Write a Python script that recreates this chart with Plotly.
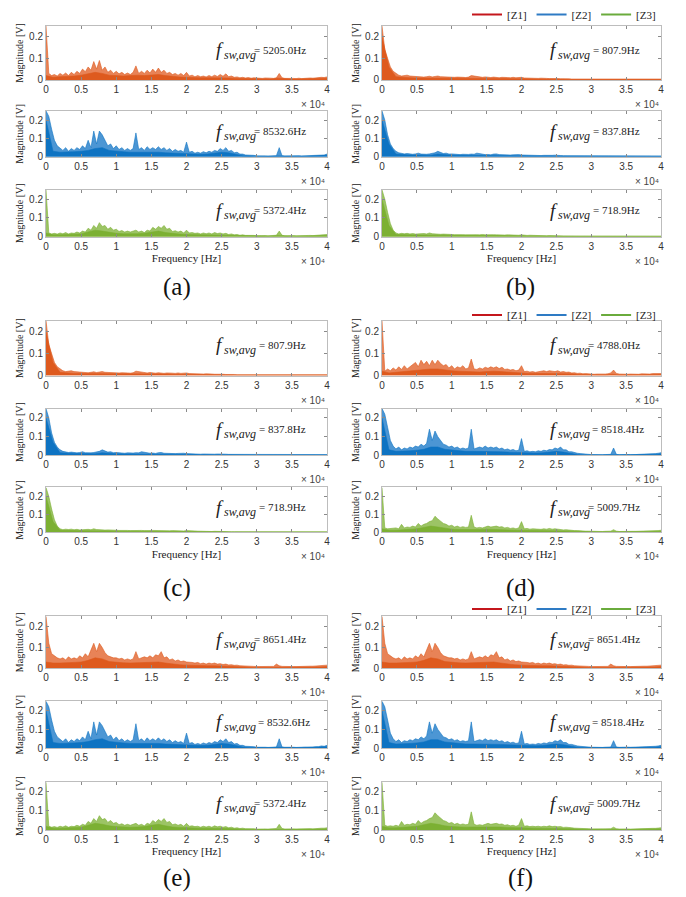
import plotly.graph_objects as go

# ---------------- data (magnitude, V) ----------------
# spike envelope on a 400 Hz grid
FREQ_HZ = list(range(0, 40001, 400))
# dense band level on a 1000 Hz grid
FREQ_BASE_HZ = list(range(0, 40001, 1000))
X_TICKS_HZ = [0, 5000, 10000, 15000, 20000, 25000, 30000, 35000, 40000]
X_TICK_TEXT = ["0", "0.5", "1", "1.5", "2", "2.5", "3", "3.5", "4"]
Y_TICKS = [0, 0.1, 0.2]
Y_TICK_TEXT = ["0", "0.1", "0.2"]

A1 = [0.25, 0.03, 0.02, 0.025, 0.018, 0.03, 0.022, 0.032, 0.02, 0.035, 0.025,
      0.04, 0.03, 0.05, 0.038, 0.06, 0.045, 0.085, 0.05, 0.09, 0.045,
      0.06, 0.035, 0.045, 0.03, 0.04, 0.028, 0.035, 0.025, 0.032, 0.025,
      0.035, 0.065, 0.03, 0.04, 0.03, 0.045, 0.032, 0.05, 0.035, 0.055,
      0.035, 0.045, 0.03, 0.035, 0.025, 0.03, 0.022, 0.03, 0.02, 0.035,
      0.018, 0.022, 0.015, 0.02, 0.015, 0.018, 0.014, 0.02, 0.015, 0.022,
      0.016, 0.025, 0.017, 0.028, 0.015, 0.018, 0.012, 0.014, 0.01, 0.012,
      0.009, 0.011, 0.008, 0.01, 0.008, 0.009, 0.007, 0.009, 0.007, 0.008,
      0.007, 0.01, 0.03, 0.01, 0.007, 0.008, 0.006, 0.007, 0.006, 0.008,
      0.006, 0.008, 0.007, 0.009, 0.008, 0.01, 0.009, 0.012, 0.011, 0.014]
A1_BASE = [0.02, 0.012, 0.015, 0.015, 0.018, 0.022, 0.03, 0.035, 0.03, 0.022, 0.02,
           0.018, 0.02, 0.022, 0.02, 0.022, 0.025, 0.02, 0.016, 0.014, 0.012,
           0.01, 0.01, 0.01, 0.01, 0.011, 0.009, 0.007, 0.006, 0.005, 0.005,
           0.005, 0.004, 0.008, 0.005, 0.004, 0.004, 0.005, 0.005, 0.006, 0.008]

A2 = [0.25, 0.22, 0.15, 0.09, 0.06, 0.045, 0.035, 0.05, 0.03, 0.045, 0.035,
      0.05, 0.04, 0.06, 0.045, 0.09, 0.05, 0.14, 0.07, 0.14, 0.12,
      0.09, 0.06, 0.07, 0.045, 0.06, 0.04, 0.05, 0.035, 0.045, 0.035,
      0.045, 0.13, 0.04, 0.05, 0.035, 0.055, 0.04, 0.05, 0.04, 0.055,
      0.04, 0.05, 0.035, 0.045, 0.03, 0.04, 0.03, 0.035, 0.025, 0.08,
      0.025, 0.03, 0.02, 0.025, 0.02, 0.028, 0.022, 0.03, 0.025, 0.035,
      0.03, 0.045, 0.035, 0.05, 0.03, 0.035, 0.022, 0.025, 0.015, 0.015,
      0.01, 0.01, 0.007, 0.008, 0.005, 0.006, 0.004, 0.005, 0.004, 0.005,
      0.004, 0.006, 0.05, 0.006, 0.004, 0.005, 0.004, 0.005, 0.004, 0.006,
      0.005, 0.006, 0.005, 0.007, 0.006, 0.008, 0.008, 0.012, 0.01, 0.015]
A2_BASE = [0.2, 0.03, 0.025, 0.025, 0.028, 0.03, 0.035, 0.045, 0.05, 0.035, 0.03,
           0.028, 0.025, 0.025, 0.025, 0.028, 0.025, 0.022, 0.02, 0.018, 0.018,
           0.015, 0.014, 0.015, 0.02, 0.025, 0.022, 0.012, 0.006, 0.004, 0.003,
           0.003, 0.003, 0.005, 0.003, 0.003, 0.003, 0.003, 0.004, 0.005, 0.008]

A3 = [0.25, 0.02, 0.015, 0.018, 0.014, 0.02, 0.016, 0.022, 0.015, 0.02, 0.018,
      0.025, 0.02, 0.03, 0.025, 0.045, 0.035, 0.06, 0.045, 0.075, 0.055,
      0.06, 0.04, 0.05, 0.035, 0.04, 0.028, 0.033, 0.025, 0.03, 0.025,
      0.03, 0.035, 0.025, 0.03, 0.022, 0.035, 0.03, 0.05, 0.04, 0.055,
      0.045, 0.06, 0.04, 0.045, 0.028, 0.032, 0.025, 0.03, 0.02, 0.035,
      0.02, 0.022, 0.018, 0.02, 0.015, 0.02, 0.016, 0.02, 0.015, 0.022,
      0.017, 0.02, 0.015, 0.018, 0.012, 0.015, 0.01, 0.012, 0.008, 0.01,
      0.007, 0.008, 0.006, 0.007, 0.005, 0.006, 0.005, 0.006, 0.005, 0.006,
      0.005, 0.008, 0.03, 0.008, 0.005, 0.006, 0.005, 0.006, 0.005, 0.006,
      0.005, 0.006, 0.006, 0.007, 0.006, 0.008, 0.008, 0.01, 0.01, 0.012]
A3_BASE = [0.02, 0.01, 0.01, 0.012, 0.012, 0.015, 0.025, 0.035, 0.03, 0.022, 0.018,
           0.016, 0.015, 0.016, 0.018, 0.025, 0.03, 0.022, 0.016, 0.014, 0.012,
           0.011, 0.01, 0.01, 0.01, 0.009, 0.008, 0.006, 0.004, 0.003, 0.003,
           0.003, 0.003, 0.006, 0.003, 0.003, 0.003, 0.003, 0.004, 0.005, 0.006]

B1 = [0.25, 0.14, 0.1, 0.06, 0.04, 0.03, 0.022, 0.018, 0.02, 0.022, 0.018,
      0.017, 0.015, 0.014, 0.015, 0.013, 0.015, 0.017, 0.014, 0.016, 0.018,
      0.015, 0.014, 0.016, 0.013, 0.014, 0.012, 0.013, 0.011, 0.012, 0.011,
      0.013, 0.02, 0.018, 0.015, 0.013, 0.012, 0.014, 0.012, 0.011, 0.013,
      0.011, 0.01, 0.012, 0.01, 0.011, 0.01, 0.012, 0.01, 0.011, 0.012,
      0.009, 0.008, 0.009, 0.007, 0.008, 0.007, 0.008, 0.006, 0.007, 0.006,
      0.007, 0.006, 0.006, 0.005, 0.006, 0.005, 0.005, 0.004, 0.004, 0.004,
      0.004, 0.004, 0.003, 0.004, 0.003, 0.003, 0.003, 0.003, 0.003, 0.003,
      0.003, 0.003, 0.003, 0.003, 0.003, 0.003, 0.003, 0.003, 0.003, 0.003,
      0.003, 0.003, 0.003, 0.003, 0.003, 0.003, 0.003, 0.003, 0.003, 0.004]
B1_BASE = [0.2, 0.06, 0.015, 0.011, 0.01, 0.009, 0.009, 0.009, 0.01, 0.009, 0.008,
           0.008, 0.007, 0.009, 0.008, 0.007, 0.007, 0.007, 0.006, 0.006, 0.006,
           0.005, 0.004, 0.004, 0.003, 0.003, 0.003, 0.002, 0.002, 0.002, 0.002,
           0.002, 0.002, 0.002, 0.002, 0.002, 0.002, 0.002, 0.002, 0.002, 0.002]

B2 = [0.25, 0.2, 0.12, 0.07, 0.045, 0.03, 0.022, 0.018, 0.016, 0.018, 0.015,
      0.014, 0.016, 0.02, 0.015, 0.013, 0.014, 0.016, 0.018, 0.022, 0.03,
      0.025, 0.018, 0.02, 0.015, 0.016, 0.014, 0.013, 0.012, 0.014, 0.012,
      0.013, 0.015, 0.014, 0.02, 0.016, 0.013, 0.012, 0.013, 0.011, 0.015,
      0.016, 0.012, 0.011, 0.01, 0.012, 0.01, 0.011, 0.013, 0.012, 0.01,
      0.009, 0.008, 0.009, 0.008, 0.007, 0.008, 0.007, 0.008, 0.007, 0.007,
      0.008, 0.009, 0.01, 0.007, 0.006, 0.006, 0.005, 0.005, 0.005, 0.004,
      0.004, 0.004, 0.004, 0.004, 0.004, 0.004, 0.004, 0.004, 0.004, 0.004,
      0.004, 0.005, 0.008, 0.005, 0.004, 0.004, 0.004, 0.004, 0.004, 0.004,
      0.004, 0.004, 0.004, 0.004, 0.004, 0.004, 0.004, 0.004, 0.004, 0.005]
B2_BASE = [0.2, 0.07, 0.015, 0.011, 0.01, 0.01, 0.009, 0.009, 0.015, 0.01, 0.009,
           0.008, 0.008, 0.009, 0.008, 0.007, 0.007, 0.006, 0.006, 0.006, 0.005,
           0.005, 0.004, 0.004, 0.004, 0.004, 0.003, 0.002, 0.002, 0.002, 0.002,
           0.002, 0.002, 0.003, 0.002, 0.002, 0.002, 0.002, 0.002, 0.002, 0.002]

B3 = [0.25, 0.2, 0.13, 0.07, 0.035, 0.02, 0.015, 0.018, 0.016, 0.018, 0.015,
      0.017, 0.014, 0.016, 0.015, 0.017, 0.015, 0.02, 0.016, 0.014, 0.015,
      0.013, 0.014, 0.012, 0.013, 0.012, 0.011, 0.012, 0.01, 0.011, 0.01,
      0.011, 0.012, 0.01, 0.011, 0.01, 0.012, 0.01, 0.011, 0.01, 0.011,
      0.01, 0.009, 0.01, 0.009, 0.01, 0.009, 0.008, 0.009, 0.008, 0.01,
      0.008, 0.007, 0.008, 0.007, 0.006, 0.007, 0.006, 0.006, 0.005, 0.006,
      0.005, 0.006, 0.005, 0.005, 0.004, 0.004, 0.004, 0.004, 0.004, 0.004,
      0.003, 0.003, 0.003, 0.003, 0.003, 0.003, 0.003, 0.003, 0.003, 0.003,
      0.003, 0.003, 0.004, 0.003, 0.003, 0.003, 0.003, 0.003, 0.003, 0.003,
      0.003, 0.003, 0.003, 0.003, 0.003, 0.003, 0.003, 0.003, 0.003, 0.003]
B3_BASE = [0.2, 0.06, 0.012, 0.01, 0.01, 0.009, 0.009, 0.01, 0.008, 0.008, 0.007,
           0.007, 0.007, 0.006, 0.006, 0.006, 0.006, 0.005, 0.005, 0.005, 0.005,
           0.004, 0.004, 0.003, 0.003, 0.003, 0.002, 0.002, 0.002, 0.002, 0.002,
           0.002, 0.002, 0.002, 0.002, 0.002, 0.002, 0.002, 0.002, 0.002, 0.002]

D1 = [0.25, 0.02, 0.03, 0.022, 0.035, 0.025, 0.04, 0.028, 0.045, 0.03, 0.04,
      0.05, 0.06, 0.04, 0.07, 0.05, 0.065, 0.045, 0.07, 0.05, 0.07,
      0.055, 0.045, 0.05, 0.035, 0.045, 0.03, 0.04, 0.035, 0.045, 0.03,
      0.035, 0.075, 0.03, 0.028, 0.035, 0.03, 0.038, 0.033, 0.04, 0.035,
      0.04, 0.032, 0.038, 0.028, 0.03, 0.025, 0.028, 0.022, 0.025, 0.045,
      0.018, 0.02, 0.016, 0.018, 0.015, 0.018, 0.02, 0.022, 0.018, 0.022,
      0.02, 0.018, 0.022, 0.016, 0.018, 0.015, 0.016, 0.012, 0.013, 0.01,
      0.011, 0.008, 0.009, 0.007, 0.008, 0.006, 0.007, 0.006, 0.007, 0.007,
      0.008, 0.012, 0.025, 0.01, 0.007, 0.006, 0.007, 0.006, 0.007, 0.006,
      0.007, 0.006, 0.008, 0.007, 0.008, 0.007, 0.009, 0.008, 0.01, 0.009]
D1_BASE = [0.02, 0.012, 0.015, 0.018, 0.02, 0.025, 0.028, 0.03, 0.03, 0.025, 0.022,
           0.02, 0.018, 0.016, 0.016, 0.018, 0.02, 0.018, 0.015, 0.013, 0.012,
           0.01, 0.01, 0.011, 0.011, 0.011, 0.01, 0.008, 0.006, 0.004, 0.004,
           0.003, 0.003, 0.006, 0.003, 0.003, 0.003, 0.004, 0.004, 0.004, 0.005]

D2 = [0.25, 0.22, 0.15, 0.08, 0.05, 0.035, 0.045, 0.03, 0.04, 0.035, 0.045,
      0.04, 0.05, 0.045, 0.06, 0.05, 0.065, 0.14, 0.08, 0.13, 0.1,
      0.08, 0.06, 0.055, 0.045, 0.05, 0.04, 0.045, 0.035, 0.04, 0.035,
      0.04, 0.14, 0.035, 0.04, 0.045, 0.04, 0.05, 0.04, 0.045, 0.04,
      0.045, 0.035, 0.04, 0.03, 0.035, 0.028, 0.032, 0.025, 0.028, 0.09,
      0.022, 0.025, 0.02, 0.022, 0.02, 0.025, 0.022, 0.028, 0.025, 0.032,
      0.03, 0.04, 0.035, 0.045, 0.03, 0.03, 0.02, 0.02, 0.014, 0.012,
      0.01, 0.008, 0.007, 0.006, 0.005, 0.005, 0.004, 0.005, 0.004, 0.005,
      0.004, 0.006, 0.04, 0.006, 0.004, 0.005, 0.004, 0.005, 0.004, 0.006,
      0.005, 0.006, 0.006, 0.007, 0.007, 0.008, 0.009, 0.01, 0.012, 0.015]
D2_BASE = [0.2, 0.03, 0.022, 0.022, 0.025, 0.028, 0.033, 0.045, 0.045, 0.033, 0.028,
           0.025, 0.022, 0.022, 0.022, 0.024, 0.024, 0.02, 0.018, 0.016, 0.016,
           0.013, 0.013, 0.014, 0.018, 0.022, 0.018, 0.01, 0.005, 0.003, 0.003,
           0.003, 0.003, 0.005, 0.003, 0.003, 0.003, 0.004, 0.004, 0.005, 0.008]

D3 = [0.25, 0.025, 0.02, 0.022, 0.02, 0.025, 0.02, 0.045, 0.025, 0.03, 0.028,
      0.035, 0.03, 0.05, 0.035, 0.045, 0.05, 0.06, 0.065, 0.09, 0.075,
      0.06, 0.05, 0.045, 0.035, 0.04, 0.03, 0.035, 0.028, 0.032, 0.028,
      0.03, 0.095, 0.03, 0.025, 0.028, 0.025, 0.03, 0.035, 0.03, 0.032,
      0.035, 0.03, 0.032, 0.025, 0.028, 0.022, 0.025, 0.02, 0.025, 0.06,
      0.02, 0.022, 0.018, 0.02, 0.018, 0.02, 0.017, 0.02, 0.018, 0.022,
      0.018, 0.02, 0.017, 0.018, 0.014, 0.015, 0.012, 0.012, 0.01, 0.01,
      0.008, 0.008, 0.007, 0.007, 0.006, 0.006, 0.005, 0.006, 0.005, 0.006,
      0.005, 0.007, 0.015, 0.007, 0.005, 0.006, 0.005, 0.006, 0.005, 0.006,
      0.006, 0.006, 0.007, 0.007, 0.008, 0.008, 0.009, 0.009, 0.01, 0.012]
D3_BASE = [0.02, 0.012, 0.012, 0.014, 0.016, 0.02, 0.028, 0.035, 0.03, 0.022, 0.018,
           0.016, 0.015, 0.016, 0.016, 0.018, 0.018, 0.016, 0.014, 0.012, 0.012,
           0.011, 0.01, 0.01, 0.01, 0.01, 0.008, 0.007, 0.005, 0.004, 0.003,
           0.003, 0.003, 0.004, 0.003, 0.003, 0.003, 0.004, 0.004, 0.005, 0.006]

E1 = [0.25, 0.12, 0.07, 0.06, 0.05, 0.045, 0.05, 0.04, 0.055, 0.045, 0.05,
      0.045, 0.06, 0.05, 0.07, 0.055, 0.09, 0.12, 0.08, 0.12, 0.1,
      0.075, 0.06, 0.055, 0.05, 0.05, 0.045, 0.048, 0.04, 0.045, 0.04,
      0.045, 0.08, 0.045, 0.05, 0.055, 0.05, 0.06, 0.05, 0.065, 0.06,
      0.08, 0.05, 0.055, 0.04, 0.045, 0.035, 0.04, 0.032, 0.035, 0.03,
      0.03, 0.028, 0.025, 0.028, 0.022, 0.025, 0.02, 0.025, 0.022, 0.025,
      0.02, 0.022, 0.018, 0.02, 0.016, 0.017, 0.014, 0.015, 0.012, 0.012,
      0.01, 0.01, 0.009, 0.009, 0.008, 0.008, 0.008, 0.008, 0.008, 0.008,
      0.009, 0.02, 0.012, 0.009, 0.008, 0.008, 0.008, 0.008, 0.008, 0.009,
      0.008, 0.009, 0.009, 0.01, 0.01, 0.011, 0.012, 0.012, 0.014, 0.015]
E1_BASE = [0.03, 0.025, 0.025, 0.025, 0.028, 0.03, 0.038, 0.05, 0.045, 0.032, 0.028,
           0.026, 0.025, 0.026, 0.028, 0.03, 0.03, 0.025, 0.02, 0.017, 0.015,
           0.013, 0.012, 0.012, 0.012, 0.01, 0.009, 0.008, 0.006, 0.005, 0.004,
           0.004, 0.004, 0.006, 0.004, 0.004, 0.004, 0.005, 0.005, 0.006, 0.008]

PANEL_NAMES = ["(a)", "(b)", "(c)", "(d)", "(e)", "(f)"]
PANEL_SERIES = [
    [(A1, A1_BASE), (A2, A2_BASE), (A3, A3_BASE)],
    [(B1, B1_BASE), (B2, B2_BASE), (B3, B3_BASE)],
    [(B1, B1_BASE), (B2, B2_BASE), (B3, B3_BASE)],
    [(D1, D1_BASE), (D2, D2_BASE), (D3, D3_BASE)],
    [(E1, E1_BASE), (A2, A2_BASE), (A3, A3_BASE)],
    [(E1, E1_BASE), (D2, D2_BASE), (D3, D3_BASE)],
]
PANEL_FSW = [
    ["= 5205.0Hz", "= 8532.6Hz", "= 5372.4Hz"],
    ["= 807.9Hz", "= 837.8Hz", "= 718.9Hz"],
    ["= 807.9Hz", "= 837.8Hz", "= 718.9Hz"],
    ["= 4788.0Hz", "= 8518.4Hz", "= 5009.7Hz"],
    ["= 8651.4Hz", "= 8532.6Hz", "= 5372.4Hz"],
    ["= 8651.4Hz", "= 8518.4Hz", "= 5009.7Hz"],
]
# small extra gap before "=" (pixels), as typeset in the reference
PANEL_FSW_GAP = [
    [0, 0, 0],
    [5, 5, 5],
    [5, 5, 5],
    [0, 4, 0],
    [0, 4, 0],
    [0, 4, 0],
]
LEGEND_NAMES = ["[Z1]", "[Z2]", "[Z3]"]
X_MULT_TEXT = "× 10⁴"

# ---------------- styling / layout ----------------
W, H = 686, 897
SERIES_COLORS = ["#DE5A1E", "#0E73C2", "#7CB033"]
PEAK_FILL = ["rgba(226,96,40,0.78)", "rgba(25,120,200,0.78)", "rgba(128,180,58,0.78)"]
LEGEND_COLORS = ["#C4161C", "#2E7BC4", "#6AAB3C"]
COL_X = [(46, 327), (382, 661)]
ROW_Y = [
    [(25, 79), (110, 156), (189, 236)],
    [(320, 375), (408, 455), (487, 532)],
    [(616, 668), (701, 748), (782, 830)],
]
LABEL_Y = [286, 588, 878]
LABEL_X = [177, 520]
LEGEND_Y = [14, 315, 609]

SERIF = "Liberation Serif, Times New Roman, serif"
SANS = "Liberation Sans, Arial, sans-serif"

fig = go.Figure()
layout = dict(
    width=W, height=H, margin=dict(l=0, r=0, t=0, b=0),
    paper_bgcolor="white", plot_bgcolor="white", template="none",
    showlegend=True,
)
annotations = []

k = 0
for p in range(6):
    g, c = p // 2, p % 2
    x0, x1 = COL_X[c]
    for r in range(3):
        k += 1
        top, bot = ROW_Y[g][r]
        xn = "x" if k == 1 else f"x{k}"
        yn = "y" if k == 1 else f"y{k}"
        xk = "xaxis" if k == 1 else f"xaxis{k}"
        yk = "yaxis" if k == 1 else f"yaxis{k}"
        common = dict(
            showgrid=False, zeroline=False, showline=True, linecolor="#BDBDBD",
            linewidth=1, mirror="ticks", ticks="inside", ticklen=3,
            tickcolor="#8A8A8A", automargin=False,
            tickfont=dict(family=SANS, size=10, color="#333333"),
        )
        xa = dict(common, domain=[x0 / W, x1 / W], anchor=yn, range=[0, 40000],
                  tickvals=X_TICKS_HZ, ticktext=X_TICK_TEXT)
        if r == 2:
            xa["title"] = dict(text="Frequency [Hz]", standoff=3,
                               font=dict(family=SERIF, size=11, color="#222222"))
        ya = dict(common, domain=[1 - bot / H, 1 - top / H], anchor=xn,
                  range=[0, 0.25], tickvals=Y_TICKS, ticktext=Y_TICK_TEXT,
                  title=dict(text="Magnitude [V]", standoff=3,
                             font=dict(family=SERIF, size=10, color="#222222")))
        layout[xk] = xa
        layout[yk] = ya
        peaks, base = PANEL_SERIES[p][r]
        fig.add_trace(go.Scatter(
            x=FREQ_HZ, y=peaks, mode="lines",
            line=dict(color=SERIES_COLORS[r], width=0.6),
            fill="tozeroy", fillcolor=PEAK_FILL[r],
            xaxis=xn, yaxis=yn, showlegend=False, hoverinfo="skip"))
        fig.add_trace(go.Scatter(
            x=FREQ_BASE_HZ, y=base, mode="lines",
            line=dict(color=SERIES_COLORS[r], width=0.6),
            fill="tozeroy", fillcolor=SERIES_COLORS[r],
            xaxis=xn, yaxis=yn, showlegend=False, hoverinfo="skip"))
        xd = "x domain" if k == 1 else f"x{k} domain"
        yd = "y domain" if k == 1 else f"y{k} domain"
        ay = 0.56
        annotations.append(dict(
            xref=xd, yref=yd, x=0.6, y=ay, xanchor="left", yanchor="middle",
            showarrow=False, text="f", borderpad=0,
            font=dict(family=SERIF, size=19, color="#222222", style="italic")))
        annotations.append(dict(
            xref=xd, yref=yd, x=0.6, y=ay, xanchor="left", yanchor="middle",
            xshift=8, yshift=-5, showarrow=False, text="sw,avg", borderpad=0,
            font=dict(family=SERIF, size=12, color="#222222", style="italic")))
        annotations.append(dict(
            xref=xd, yref=yd, x=0.6, y=ay, xanchor="left", yanchor="middle",
            xshift=38 + PANEL_FSW_GAP[p][r], showarrow=False, text=PANEL_FSW[p][r],
            borderpad=0, font=dict(family=SERIF, size=11, color="#222222")))
        annotations.append(dict(
            xref=xd, yref=yd, x=1, y=0, xanchor="right", yanchor="top",
            yshift=-17, showarrow=False, text=X_MULT_TEXT,
            font=dict(family=SANS, size=10, color="#444444")))
    annotations.append(dict(
        xref="paper", yref="paper", x=LABEL_X[c] / W, y=1 - LABEL_Y[g] / H,
        xanchor="center", yanchor="middle", showarrow=False,
        text=PANEL_NAMES[p], font=dict(family=SERIF, size=25, color="#111111")))

# legends above the right-hand panels
legend_keys = ["legend", "legend2", "legend3"]
for li, lk in enumerate(legend_keys):
    layout[lk] = dict(orientation="h", x=661 / W, xanchor="right",
                      y=1 - LEGEND_Y[li] / H, yanchor="middle",
                      bgcolor="rgba(0,0,0,0)", borderwidth=0,
                      font=dict(family=SERIF, size=11, color="#222222"),
                      itemwidth=30, tracegroupgap=0)
    for s in range(3):
        fig.add_trace(go.Scatter(
            x=[None], y=[None], mode="lines", name=LEGEND_NAMES[s],
            line=dict(color=LEGEND_COLORS[s], width=2),
            legend=lk, showlegend=True, xaxis="x", yaxis="y"))

layout["annotations"] = annotations
fig.update_layout(**layout)
fig.write_html("out.html")
